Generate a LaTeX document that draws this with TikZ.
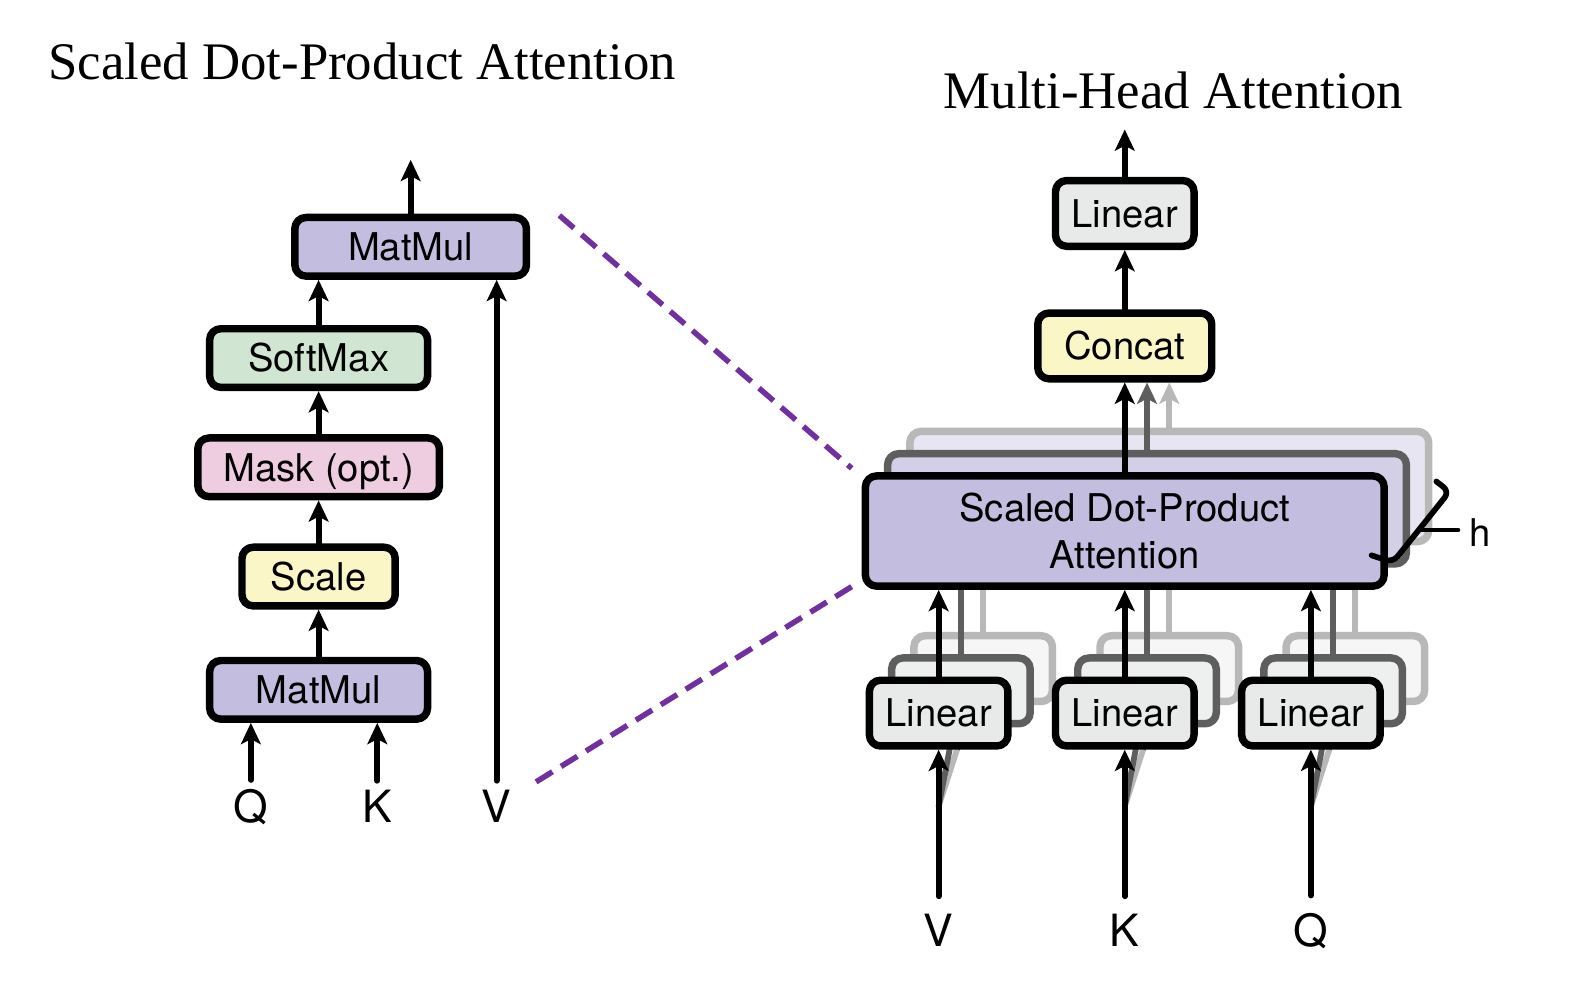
\documentclass[tikz,border=0pt]{standalone}
\usepackage{fontspec}
\setmainfont{Liberation Serif}
\newfontfamily\helv{TeX Gyre Heros}
\usepackage{xcolor}
\usepackage{tikz}
\usetikzlibrary{arrows.meta}
\definecolor{mmpurple}{HTML}{C3BEDF}
\definecolor{softgreen}{HTML}{D0E6D2}
\definecolor{maskpink}{HTML}{EFCDE0}
\definecolor{paleyellow}{HTML}{FAF6C6}
\definecolor{lingrey}{HTML}{E7EAE9}
\definecolor{dashpurple}{HTML}{7030A0}
\definecolor{midgrey}{HTML}{5E5E5E}
\definecolor{lightgrey}{HTML}{B8B8B8}
\definecolor{lavtwo}{HTML}{D3CFE6}
\definecolor{lavthree}{HTML}{E7E5F1}
\definecolor{lintwo}{HTML}{EEF0EF}
\definecolor{linthree}{HTML}{F5F6F5}
\tikzset{
    every picture/.style={line cap=round,line join=round},
    opbox/.style={draw=black,line width=4.2pt,rounded corners=2.2mm,
      minimum height=1.16cm,inner sep=0pt,
      font=\helv\fontsize{21.5}{26.5}\selectfont},
    oneline/.style={text height=15.5pt,text depth=0pt},
    linsize/.style={minimum width=2.74cm,minimum height=1.3cm},
    sdpasize/.style={minimum width=10.26cm,minimum height=2.18cm},
    flowarrow/.style={-{Stealth[length=4.2mm,width=3.9mm,inset=1mm]},
      line width=3.3pt},
    letter/.style={font=\helv\fontsize{25}{28}\selectfont,inner sep=5pt},
    title/.style={font=\fontsize{29.7}{34}\selectfont,inner sep=0pt},
    zoomline/.style={draw=dashpurple,line width=3.1pt,line cap=butt,
      dash pattern=on 0.38cm off 0.2cm},
    bracepen/.style={line width=3.2pt,rounded corners=1.5mm}
}
\begin{document}
\begin{tikzpicture}[x=0.02cm,y=-0.02cm]
  \useasboundingbox (0,0) rectangle (1568,983);
  \node[title,anchor=base] (ttlsdpa) at (358,79) {Scaled Dot-Product Attention};
  \node[title,anchor=base] (ttlmha) at (1160,107) {Multi-Head Attention};

  % scaled dot-product attention
  \node[opbox,oneline,fill=mmpurple,minimum width=4.58cm] (mmtop) at (406,244) {MatMul};
  \node[opbox,oneline,fill=softgreen,minimum width=4.31cm] (softmax) at (315,354) {SoftMax};
  \node[opbox,oneline,fill=maskpink,minimum width=4.78cm] (mask) at (315,462) {Mask (opt.)};
  \node[opbox,oneline,fill=paleyellow,minimum width=3.03cm] (scale) at (315,570) {Scale};
  \node[opbox,oneline,fill=mmpurple,minimum width=4.31cm] (mmbot) at (315,682) {MatMul};
  \node[letter,anchor=base] (q) at (248,813) {Q};
  \node[letter,anchor=base] (k) at (373,813) {K};
  \node[letter,anchor=base] (v) at (491,813) {V};
  \coordinate (sdpaout) at (406,158);
  \draw[flowarrow] (mmtop) -- (sdpaout);
  \draw[flowarrow] (softmax.north) -- (softmax.north |- mmtop.south);
  \draw[flowarrow] (mask) -- (softmax);
  \draw[flowarrow] (scale) -- (mask);
  \draw[flowarrow] (mmbot) -- (scale);
  \draw[flowarrow] (q) -- (q |- mmbot.south);
  \draw[flowarrow] (k) -- (k |- mmbot.south);
  \draw[flowarrow] (v) -- (v |- mmtop.south);

  % zoom lines
  \coordinate (zoomA) at (553,213);
  \coordinate (zoomB) at (842,463);
  \coordinate (zoomC) at (530,773);
  \coordinate (zoomD) at (842,580);
  \draw[zoomline] (zoomA) -- (zoomB);
  \draw[zoomline] (zoomC) -- (zoomD);

  % multi-head attention
  \node[opbox,oneline,linsize,fill=lingrey] (linout) at (1112,211) {Linear};
  \node[opbox,oneline,fill=paleyellow,minimum width=3.44cm,minimum height=1.3cm] (concat) at (1112,342) {Concat};
  \coordinate (mhaout) at (1112,128);
  \draw[flowarrow] (linout) -- (mhaout);
  \draw[flowarrow] (concat) -- (linout);

  % third head
  \node[opbox,sdpasize,draw=lightgrey,fill=lavthree] (sdpa3) at (1156,481) {};
  \foreach \col/\xx in {v/928,k/1112,q/1296}{
    \node[opbox,linsize,draw=lightgrey,fill=linthree] (lin\col3) at (\xx+44,661) {};
    \coordinate (fork\col) at (\xx,797);
    \draw[flowarrow,lightgrey] (fork\col) -- (lin\col3);
    \draw[flowarrow,lightgrey] (lin\col3) -- (lin\col3 |- sdpa3.south);
  }
  \draw[flowarrow,lightgrey] (sdpa3) -- (sdpa3 |- concat.south);

  % second head
  \node[opbox,sdpasize,draw=midgrey,fill=lavtwo] (sdpa2) at (1134,503) {};
  \foreach \col/\xx in {v/928,k/1112,q/1296}{
    \node[opbox,linsize,draw=midgrey,fill=lintwo] (lin\col2) at (\xx+22,683) {};
    \draw[flowarrow,midgrey] (fork\col) -- (lin\col2);
    \draw[flowarrow,midgrey] (lin\col2) -- (lin\col2 |- sdpa2.south);
  }
  \draw[flowarrow,midgrey] (sdpa2) -- (sdpa2 |- concat.south);

  % first head
  \node[opbox,sdpasize,fill=mmpurple,align=center] (sdpa) at (1112,525) {Scaled Dot-Product\\Attention};
  \node[opbox,oneline,linsize,fill=lingrey] (linv) at (928,705) {Linear};
  \node[opbox,oneline,linsize,fill=lingrey] (link) at (1112,705) {Linear};
  \node[opbox,oneline,linsize,fill=lingrey] (linq) at (1296,705) {Linear};
  \node[letter,anchor=base,inner ysep=10pt] (inv) at (928,936) {V};
  \node[letter,anchor=base,inner ysep=10pt] (ink) at (1112,936) {K};
  \node[letter,anchor=base,inner ysep=10pt] (inq) at (1296,936) {Q};
  \draw[flowarrow] (inv) -- (linv);
  \draw[flowarrow] (ink) -- (link);
  \draw[flowarrow] (inq) -- (linq);
  \draw[flowarrow] (linv) -- (linv |- sdpa.south);
  \draw[flowarrow] (link) -- (sdpa);
  \draw[flowarrow] (linq) -- (linq |- sdpa.south);
  \draw[flowarrow] (sdpa) -- (concat);

  % h heads
  \draw[bracepen] (1420,476) -- (1433,486) -- (1377,556) -- (1356,549);
  \node[font=\helv\fontsize{21.5}{26}\selectfont,anchor=base,inner xsep=6pt] (hlbl) at (1463,540) {h};
  \coordinate (htick) at (1404,524);
  \draw[line width=2.4pt] (htick) -- (htick -| hlbl.west);
\end{tikzpicture}
\end{document}
